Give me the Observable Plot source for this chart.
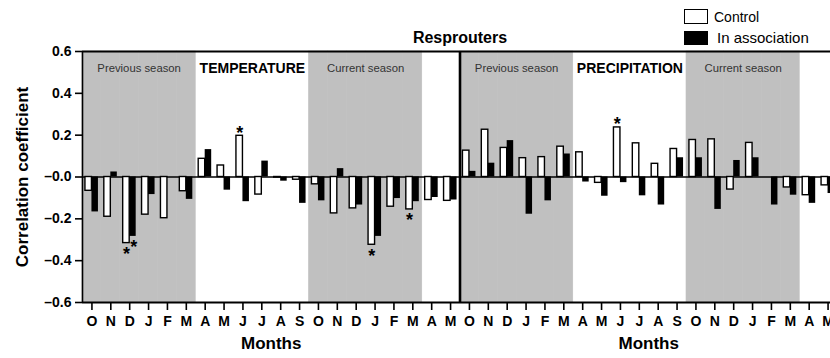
<!DOCTYPE html>
<html><head><meta charset="utf-8">
<script src="https://cdn.jsdelivr.net/npm/d3@7"></script>
<script src="https://cdn.jsdelivr.net/npm/@observablehq/plot@0.6"></script>
<style>
body{margin:0;background:#fff;overflow:hidden}
#wrap{position:relative;width:830px;height:358px;overflow:hidden;font-family:"Liberation Sans",Arial,Helvetica,sans-serif;color:#000}
#wrap svg{position:absolute;left:0;top:0}
.box{position:absolute;width:24px;box-sizing:border-box}
.lt{position:absolute;line-height:1;white-space:nowrap}
</style></head><body><div id="wrap"></div>
<script>
// ---- data ----
const months = ["O","N","D","J","F","M","A","M","J","J","A","S","O","N","D","J","F","M","A","M"];
const tempControl = [-0.066,-0.19,-0.316,-0.18,-0.197,-0.068,0.087,0.055,0.197,-0.084,-0.003,-0.013,-0.035,-0.174,-0.15,-0.324,-0.142,-0.155,-0.11,-0.114];
const tempAssoc   = [-0.167,0.024,-0.284,-0.084,0,-0.107,0.131,-0.063,-0.118,0.076,-0.02,-0.126,-0.114,0.04,-0.134,-0.284,-0.103,-0.118,-0.098,-0.11];
const precControl = [0.126,0.226,0.139,0.09,0.095,0.145,0.118,-0.028,0.237,0.161,0.063,0.134,0.177,0.18,-0.06,0.163,0,-0.05,-0.087,-0.04];
const precAssoc   = [0.027,0.066,0.174,-0.178,-0.114,0.11,-0.024,-0.092,-0.027,-0.09,-0.134,0.092,0.092,-0.155,0.079,0.092,-0.134,-0.087,-0.126,-0.079];
const seasonIdx = [0,1,2,3,4,5,12,13,14,15,16,17];
const stars = [
  {panel:"T", i:2, series:"Control"},
  {panel:"T", i:2, series:"In association"},
  {panel:"T", i:8, series:"Control"},
  {panel:"T", i:15, series:"Control"},
  {panel:"T", i:17, series:"Control"},
  {panel:"P", i:8, series:"Control"}
];
const yTicks = [0.6,0.4,0.2,0,-0.2,-0.4,-0.6];
const yTickLabels = ["0.6","0.4","0.2","\u20130.0","\u20130.2","\u20130.4","\u20130.6"];
const panelTitles = ["TEMPERATURE","PRECIPITATION"];
const title = "Resprouters";
const legendLabels = ["Control","In association"];

// ---- build ----
const keys = [...months.map((m,i)=>"T"+i), ...months.map((m,i)=>"P"+i)];
const monthOf = k => months[+k.slice(1)];
const rows = [];
months.forEach((m,i)=>{
  rows.push({key:"T"+i, series:"Control", value:tempControl[i]});
  rows.push({key:"T"+i, series:"In association", value:tempAssoc[i]});
  rows.push({key:"P"+i, series:"Control", value:precControl[i]});
  rows.push({key:"P"+i, series:"In association", value:precAssoc[i]});
});
const ctrl = rows.filter(d=>d.series==="Control");
const assoc = rows.filter(d=>d.series==="In association");
const starRows = stars.map(s=>rows.find(d=>d.key===s.panel+s.i && d.series===s.series));
const seasonKeys = [...seasonIdx.map(i=>"T"+i), ...seasonIdx.map(i=>"P"+i)];
const x0 = 82, x1 = 837;
const bw = (x1-x0)/keys.length;
const half = 6.5;
const FONT = '"Liberation Sans",Arial,Helvetica,sans-serif';
const starOpts = {x: "key", y: "value", text: () => "*", fontSize: 18, fontWeight: "bold"};

const chart = Plot.plot({
  width: 830, height: 358,
  marginTop: 51, marginBottom: 56, marginLeft: 82, marginRight: 0,
  style: {fontFamily: FONT, background: "white", overflow: "hidden"},
  x: {type: "band", domain: keys, range: [x0, x1], padding: 0},
  y: {domain: [-0.6, 0.6]},
  marks: [
    Plot.barY(seasonKeys, {x: d=>d, y1: -0.6, y2: 0.6, fill: "#c0c0c0", stroke: "#c0c0c0", strokeWidth: 0.6}),
    Plot.ruleY([0], {stroke: "black", strokeWidth: 1.5}),
    Plot.barY(ctrl, {x: "key", y: "value", fill: "white", stroke: "black", strokeWidth: 1.4, insetLeft: bw/2 - half, insetRight: bw/2}),
    Plot.barY(assoc, {x: "key", y: "value", fill: "black", insetLeft: bw/2, insetRight: bw/2 - half}),
    Plot.text(starRows.filter(d=>d.series==="Control" && d.value>=0), {...starOpts, dx: -3.3, dy: -3}),
    Plot.text(starRows.filter(d=>d.series==="Control" && d.value<0), {...starOpts, dx: -3.3, dy: 11}),
    Plot.text(starRows.filter(d=>d.series!=="Control"), {...starOpts, dx: 4, dy: 11}),
    Plot.ruleY([0.6, -0.6], {stroke: "black", strokeWidth: 2}),
    Plot.ruleX([keys[0]], {dx: -bw/2, y1: -0.6, y2: 0.6, stroke: "black", strokeWidth: 1.6}),
    Plot.ruleX(["P0"], {dx: -bw/2, y1: -0.6, y2: 0.6, stroke: "black", strokeWidth: 2.6}),
    Plot.axisY({ticks: yTicks, tickFormat: v => yTickLabels[yTicks.indexOf(v)], tickSize: 7, tickPadding: 4, fontSize: 14, fontWeight: "bold", label: null, strokeWidth: 1.6}),
    Plot.axisX({tickFormat: monthOf, tickSize: 8, tickPadding: 6, fontSize: 14, fontWeight: "bold", label: null, strokeWidth: 1.6}),
    // season labels
    Plot.text(["T2","T14","P2","P14"], {x: d=>d, text: d => (+d.slice(1) < 12 ? "Previous season" : "Current season"), frameAnchor: "top", dx: bw/2, dy: 12, fontSize: 11.3, fill: "#333"}),
    Plot.text(["T8","P8"], {x: d=>d, text: (d,i) => panelTitles[i], frameAnchor: "top", dx: bw/2, dy: 12, fontSize: 14, fontWeight: "bold"}),
    Plot.text([title], {x: () => "P0", text: d=>d, frameAnchor: "top", dx: -bw/2, dy: -20, fontSize: 16, fontWeight: "bold"}),
    Plot.text(["T9","P9"], {x: d=>d, text: () => "Months", frameAnchor: "bottom", dx: bw/2, dy: 46, fontSize: 17, fontWeight: "bold"}),
    Plot.text(["Correlation coefficient"], {text: d=>d, frameAnchor: "left", textAnchor: "middle", dx: -60, rotate: -90, fontSize: 17, fontWeight: "bold"})
  ]
});
const wrap = document.getElementById("wrap");
wrap.appendChild(chart);
// legend
const lg = [
  {label: legendLabels[0], fill: "white", top: 9, h: 15, tx: 714, ty: 9.5, fs: 14},
  {label: legendLabels[1], fill: "black", top: 31, h: 14, tx: 717, ty: 30, fs: 15}
];
lg.forEach(l=>{
  const b = document.createElement("div");
  b.className = "box";
  b.style.cssText = `left:684px;top:${l.top}px;height:${l.h}px;background:${l.fill};border:1.5px solid black;`;
  wrap.appendChild(b);
  const t = document.createElement("div");
  t.className = "lt";
  t.textContent = l.label;
  t.style.cssText = `left:${l.tx}px;top:${l.ty}px;font-size:${l.fs}px;`;
  wrap.appendChild(t);
});
</script></body></html>
